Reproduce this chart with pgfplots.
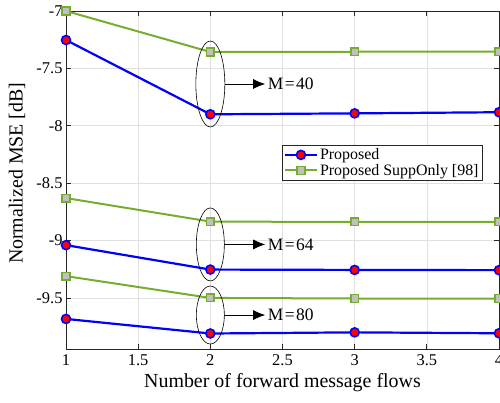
\documentclass[border=0pt]{standalone}
\usepackage{fontspec}
\setmainfont{Liberation Serif}
\usepackage{pgfplots}
\pgfplotsset{compat=1.18}
\usetikzlibrary{arrows.meta}
\definecolor{mblue}{RGB}{0,0,255}
\definecolor{mgreen}{RGB}{119,172,48}
\definecolor{mgray}{RGB}{192,192,192}
\begin{document}
\begin{tikzpicture}
\begin{axis}[
  scale only axis, width=433bp, height=338bp,
  xmin=1, xmax=4, ymin=-9.945, ymax=-7,
  xtick={1,1.5,2,2.5,3,3.5,4}, xticklabels={1,1.5,2,2.5,3,3.5,4},
  ytick={-9.5,-9,-8.5,-8,-7.5,-7}, yticklabels={-9.5,-9,-8.5,-8,-7.5,-7},
  grid=major, grid style={color=black!12, line width=0.6bp},
  axis line style={color=black!85, line width=0.8bp},
  tick style={color=black!85, line width=0.8bp},
  tick align=inside, major tick length=5bp,
  ticklabel style={font=\fontsize{16.5}{18}\selectfont},
  xticklabel style={yshift=-2bp},
  every axis x label/.style={at={(axis description cs:0.5,0)}, yshift=-34bp, anchor=center},
  every axis y label/.style={at={(axis description cs:0,0.52)}, xshift=-49bp, rotate=90, anchor=center},
  label style={font=\fontsize{20}{22}\selectfont},
  xlabel={Number of forward message flows},
  ylabel={Normalized MSE [dB]},
  legend style={at={(rel axis cs:0.499,0.604)}, anchor=north west,
    font=\fontsize{16}{18}\selectfont, draw=black!85, line width=0.6bp,
    inner sep=1.5bp, row sep=-1bp, cells={anchor=west}},
  legend image code/.code={\draw[mark repeat=2,mark phase=2] plot coordinates {(0bp,0bp)(16bp,0bp)(32bp,0bp)};},
]
\addplot[mblue, line width=2.2bp, mark=*, mark size=4.5bp, mark options={fill=red, draw=mblue, line width=1.6bp}]
  coordinates {(1,-7.253)(2,-7.900)(3,-7.892)(4,-7.882)};
\addlegendentry{Proposed}
\addplot[mgreen, line width=2bp, mark=square*, mark size=3.8bp, mark options={fill=mgray, draw=mgreen, line width=1.5bp}]
  coordinates {(1,-7.00)(2,-7.357)(3,-7.355)(4,-7.355)};
\addlegendentry{Proposed SuppOnly [98]}
\addplot[forget plot, mgreen, line width=2bp, mark=square*, mark size=3.8bp, mark options={fill=mgray, draw=mgreen, line width=1.5bp}]
  coordinates {(1,-8.63)(2,-8.835)(3,-8.838)(4,-8.838)};
\addplot[forget plot, mblue, line width=2.2bp, mark=*, mark size=4.5bp, mark options={fill=red, draw=mblue, line width=1.6bp}]
  coordinates {(1,-9.04)(2,-9.253)(3,-9.256)(4,-9.258)};
\addplot[forget plot, mgreen, line width=2bp, mark=square*, mark size=3.8bp, mark options={fill=mgray, draw=mgreen, line width=1.5bp}]
  coordinates {(1,-9.31)(2,-9.50)(3,-9.505)(4,-9.505)};
\addplot[forget plot, mblue, line width=2.2bp, mark=*, mark size=4.5bp, mark options={fill=red, draw=mblue, line width=1.6bp}]
  coordinates {(1,-9.683)(2,-9.81)(3,-9.80)(4,-9.808)};
% annotations
\draw[black, line width=0.6bp] (axis cs:2,-7.636) ellipse [x radius=14.5bp, y radius=43bp];
\draw[black, line width=0.6bp] (axis cs:2,-9.034) ellipse [x radius=14bp, y radius=36.5bp];
\draw[black, line width=0.6bp] (axis cs:2,-9.649) ellipse [x radius=14bp, y radius=29bp];
\draw[black, line width=0.7bp, -{Latex[length=12bp,width=10bp]}] (axis cs:2.1,-7.636) -- (axis cs:2.38,-7.636);
\draw[black, line width=0.7bp, -{Latex[length=12bp,width=10bp]}] (axis cs:2.097,-9.034) -- (axis cs:2.38,-9.034);
\draw[black, line width=0.7bp, -{Latex[length=12bp,width=10bp]}] (axis cs:2.097,-9.649) -- (axis cs:2.38,-9.649);
\node[anchor=west, inner sep=1bp, font=\fontsize{17.5}{19}\selectfont] at (axis cs:2.39,-7.636) {M\kern1.5bp=\kern1.5bp40};
\node[anchor=west, inner sep=1bp, font=\fontsize{17.5}{19}\selectfont] at (axis cs:2.39,-9.034) {M\kern1.5bp=\kern1.5bp64};
\node[anchor=west, inner sep=1bp, font=\fontsize{17.5}{19}\selectfont] at (axis cs:2.39,-9.649) {M\kern1.5bp=\kern1.5bp80};
\end{axis}
\pgfresetboundingbox
\useasboundingbox (-66bp,-54bp) rectangle (434bp,349bp);
\end{tikzpicture}
\end{document}
